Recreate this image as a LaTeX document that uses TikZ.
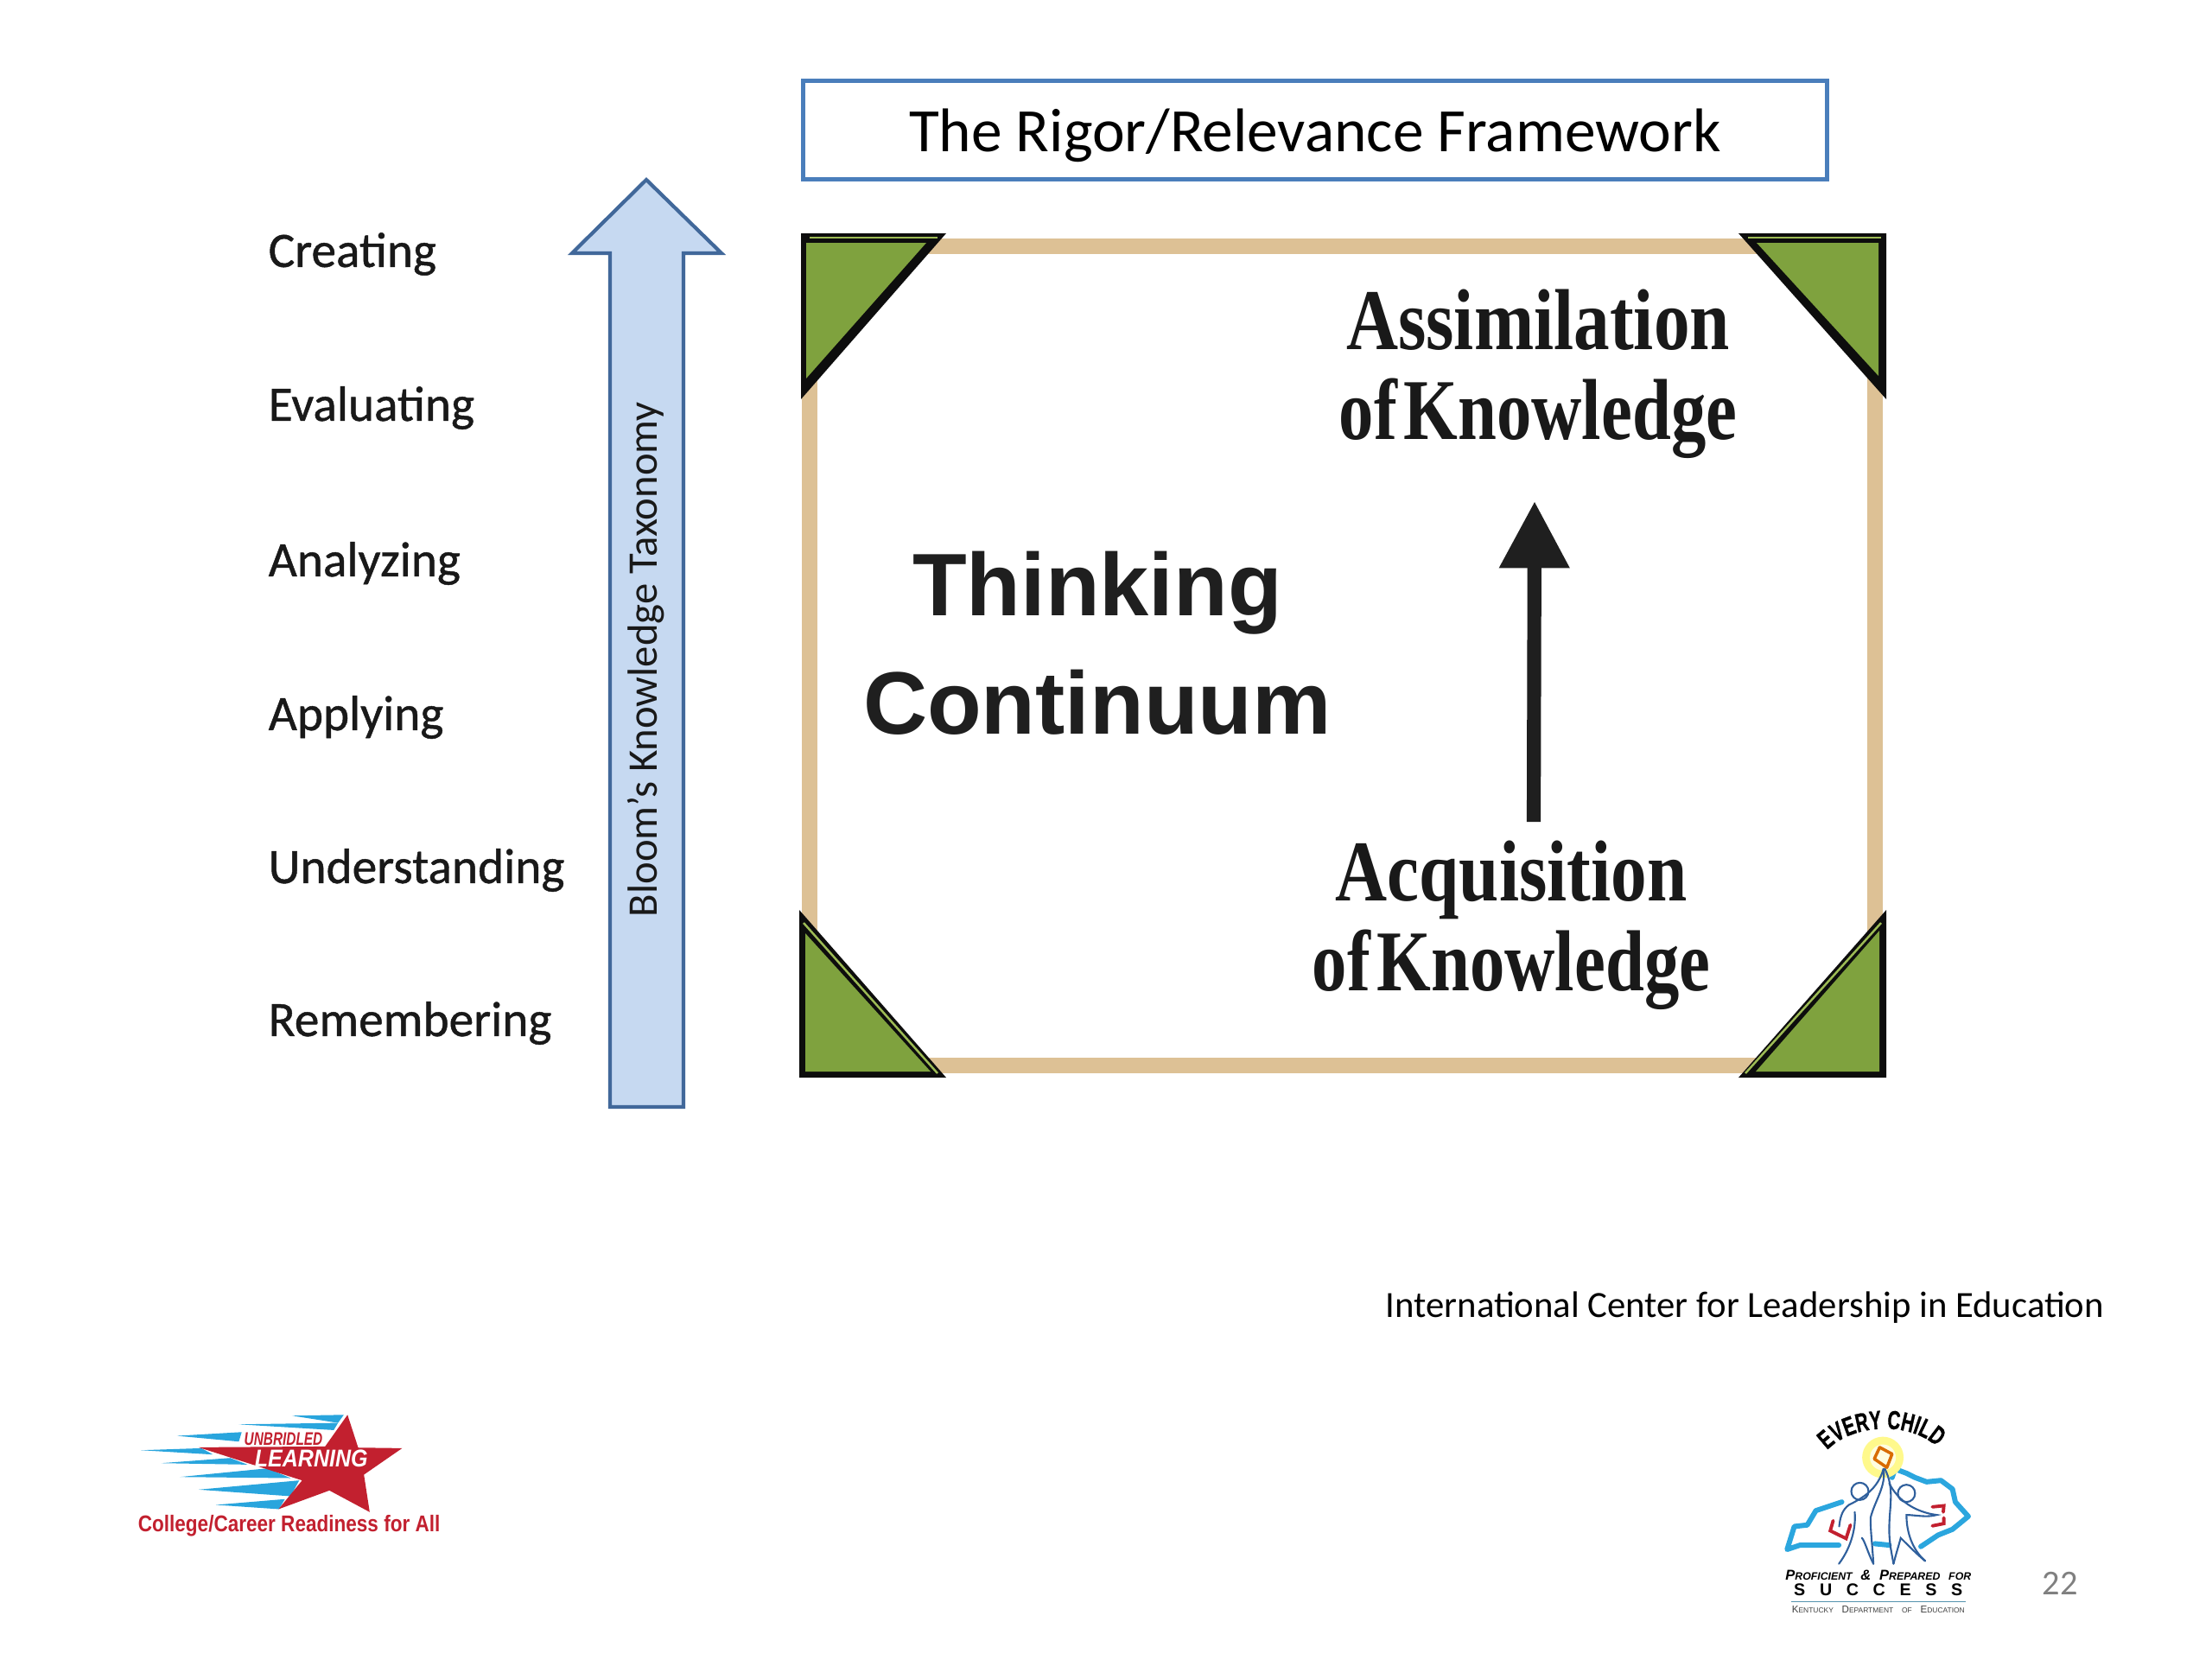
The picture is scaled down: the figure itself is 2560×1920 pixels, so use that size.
\documentclass[tikz,border=0pt]{standalone}
\usepackage{fontspec}
\usepackage{graphicx}
\setmainfont{Carlito}
\newfontfamily\levelfont[FakeBold=0.8]{Carlito}
\newfontfamily\serifcond[FakeStretch=0.83]{Liberation Serif}
\newfontfamily\headfont{Liberation Sans}
\newfontfamily\childfont[FakeStretch=0.68,FakeBold=1]{Liberation Sans}
\usepackage{xcolor}
\usepackage{tikz}
\usetikzlibrary{arrows.meta,positioning,decorations.text}
\definecolor{titleblue}{HTML}{4A7EBB}
\definecolor{arrowblue}{HTML}{C6D9F1}
\definecolor{arrowline}{HTML}{41689A}
\definecolor{frametan}{HTML}{DDC195}
\definecolor{cornergreen}{HTML}{7FA23E}
\definecolor{stripegreen}{HTML}{9DBB55}
\definecolor{logored}{HTML}{C2202F}
\definecolor{logoblue}{HTML}{29A5DD}
\definecolor{kyblue}{HTML}{2BA6DE}
\definecolor{kydark}{HTML}{2F5F9C}
\newcommand{\capword}[4]{{\fontsize{#1}{7}\selectfont #3\fontsize{#2}{7}\selectfont #4}}

\begin{document}
\begin{tikzpicture}[
    x=0.01cm, y=-0.01cm,
    level/.style={anchor=west, inner sep=0pt, font=\levelfont\fontsize{16.3}{19}\selectfont, text=black!90},
    cornerout/.style={fill=black!95},
    cornerin/.style={fill=cornergreen},
    cornerstripe/.style={draw=stripegreen, line width=0.7pt},
    framelabel/.style={align=center, inner sep=0pt, text=black!90,
                       font=\serifcond\bfseries\fontsize{28.5}{29.7}\selectfont},
    streak/.style={fill=logoblue, draw=none},
    kyline/.style={draw=kyblue, line width=1.7pt, line join=round, line cap=round},
    figline/.style={draw=kydark, line width=0.6pt, line cap=round},
    bookline/.style={draw=logored, line width=1.1pt, line cap=round}
]
\useasboundingbox (0,0) rectangle (2560,1920);

% title
\node[draw=titleblue, line width=1.4pt, minimum width=11.84cm, minimum height=1.14cm, inner sep=0pt,
      text height=16pt, text depth=1.6pt, font=\fontsize{20.3}{24}\selectfont, anchor=north west] (title) at (927,91) {The Rigor/Relevance Framework};

% taxonomy levels
\node[level] (creating) at (310,294) {Creating};
\node[level] (evaluating) at (310,472) {Evaluating};
\node[level] (analyzing) at (310,652) {Analyzing};
\node[level] (applying) at (310,830) {Applying};
\node[level] (understanding) at (310,1007) {Understanding};
\node[level] (remembering) at (310,1184) {Remembering};

% bloom arrow
\draw[draw=arrowline, fill=arrowblue, line width=1.2pt, line join=miter]
    (748,208) -- (835,293) -- (791,293) -- (791,1281) -- (706,1281) -- (706,293) -- (662,293) -- cycle;
\node[rotate=90, inner sep=0pt, font=\fontsize{13.85}{17}\selectfont, text=black!90] (bloom) at (748,763) {Bloom’s Knowledge Taxonomy};

% frame and corners
\draw[draw=frametan, line width=5.2pt] (937,285) rectangle (2170,1233);
\fill[cornerout] (927,270) -- (1095,270) -- (927,462) -- cycle;
\fill[cornerin] (933,281) -- (1072,281) -- (933,438) -- cycle;
\draw[cornerstripe] (937,275) -- (1085,275);
\fill[cornerout] (2183,270) -- (2012,270) -- (2183,462) -- cycle;
\fill[cornerin] (2174,281) -- (2033,281) -- (2174,435) -- cycle;
\draw[cornerstripe] (2177,275) -- (2023,275);
\fill[cornerout] (925,1053) -- (925,1247) -- (1095,1247) -- cycle;
\fill[cornerin] (932,1080) -- (932,1240) -- (1077,1240) -- cycle;
\draw[cornerstripe] (930,1068) -- (1085,1242);
\fill[cornerout] (2183,1053) -- (2183,1247) -- (2012,1247) -- cycle;
\fill[cornerin] (2175,1077) -- (2175,1240) -- (2032,1240) -- cycle;
\draw[cornerstripe] (2177,1068) -- (2020,1242);

% frame text
\node[align=center, inner sep=0pt, text=black!88, font=\headfont\bfseries\fontsize{29.2}{39}\selectfont] (thinking) at (1270,744) {Thinking\\Continuum};
\node[framelabel] (assim) at (1780,433) {Assimilation\\\scalebox{0.97}[1]{of\hspace{0.08em}Knowledge}};
\node[framelabel] (acqui) at (1749,1071) {Acquisition\\\scalebox{0.97}[1]{of\hspace{0.08em}Knowledge}};
\coordinate (arrowfrom) at (1775,951);
\coordinate (arrowto) at (1776,580);
\draw[line width=4.6pt, draw=black!88, -{Triangle[length=22pt,width=22pt]}] (arrowfrom) -- (arrowto);

% source and page number
\node[anchor=west, inner sep=0pt, font=\fontsize{12.15}{14}\selectfont] (source) at (1603,1513) {International Center for Leadership in Education};
\node[inner sep=0pt, text=black!50, font=\fontsize{11.5}{14}\selectfont] (pagenum) at (2384,1832) {22};

% left logo
\begin{scope}[shift={(120,1600)}, x=0.00333cm, y=-0.00333cm]
    \foreach \tipx/\tipy/\ax/\ay/\bx/\by in {
        655/115/835/112/815/140, 470/145/815/140/800/165, 255/185/480/172/470/205,
        130/235/340/228/380/250, 200/280/440/262/500/285, 265/328/570/298/650/332,
        330/372/680/340/650/395, 390/425/630/405/610/440}
        \fill[streak] (\tipx,\tipy) -- (\ax,\ay) -- (\bx,\by) -- cycle;
    \fill[logored] (848,112) -- (885,226) -- (1038,228) -- (905,320) -- (925,450) -- (785,375)
        -- (608,440) -- (690,340) -- (330,225) -- (770,222) -- cycle;
    \node[inner sep=0pt, text=logored, font=\headfont\bfseries\itshape\fontsize{6}{7}\selectfont] (unbridled) at (625,197) {\scalebox{0.73}[1]{UNBRIDLED}};
    \node[inner sep=0pt, text=white, font=\headfont\bfseries\itshape\fontsize{8}{10}\selectfont] (learning) at (722,265) {\scalebox{0.89}[1]{LEARNING}};
    \node[inner sep=0pt, text=logored, font=\headfont\bfseries\fontsize{7.5}{9}\selectfont] (readiness) at (645,497) {\scalebox{0.855}[1]{College/Career Readiness for All}};
\end{scope}

% right logo
\begin{scope}[shift={(2030,1610)}, x=0.00333cm, y=-0.00333cm]
    % state outline
    \draw[kyline] (480,300) -- (490,270) -- (530,285) -- (560,300) -- (600,315) -- (650,310) -- (690,340)
        -- (700,385) -- (745,435) -- (690,480) -- (640,500) -- (580,540);
    \draw[kyline] (470,535) -- (420,530);
    \draw[kyline] (295,535) -- (160,535) -- (115,550) -- (140,470) -- (185,465) -- (215,415)
        -- (260,400) -- (305,385);
    % star and glow
    \fill[yellow!45] (448,230) circle (72);
    \fill[yellow!12] (448,230) circle (45);
    \draw[draw=orange!85!black, line width=1pt, line join=round] (437,195) -- (480,218) -- (462,265) -- (418,235) -- cycle;
    % figures
    \draw[figline] (368,348) circle (30);
    \draw[figline] (530,355) circle (30);
    \draw[figline] (450,270) .. controls (430,340) and (380,370) .. (330,395) .. controls (310,410) and (300,430) .. (296,470);
    \draw[figline] (450,270) .. controls (460,330) and (420,380) .. (405,440) .. controls (405,490) and (412,540) .. (415,600);
    \draw[figline] (350,420) .. controls (355,470) and (340,540) .. (295,600);
    \draw[figline] (415,600) .. controls (395,560) and (385,520) .. (375,510);
    \draw[figline] (455,270) .. controls (490,340) and (470,400) .. (470,480) .. controls (470,530) and (480,570) .. (485,600);
    \draw[figline] (470,320) .. controls (500,380) and (560,420) .. (635,430) .. controls (600,440) and (560,430) .. (530,430) .. controls (530,490) and (550,550) .. (595,590);
    \draw[figline] (485,600) .. controls (495,560) and (505,530) .. (510,510) .. controls (540,540) and (570,570) .. (595,590);
    % books
    \draw[bookline] (275,450) -- (265,485) -- (320,512) -- (335,465);
    \draw[bookline] (620,402) -- (660,398) -- (658,420);
    \draw[bookline] (660,440) -- (660,460) -- (620,468);
    % lettering
    \path[postaction={decorate, decoration={text along path, text align=center,
        text={|\childfont\bfseries\fontsize{8.6}{10}\selectfont|EVERY CHILD}}}]
        (240,222) .. controls (320,110) and (560,95) .. (650,210);
    \node[inner sep=0pt, font=\headfont\bfseries\itshape] (proficient) at (432,640) {\capword{4.7}{3.5}{P}{ROFICIENT} \capword{4.7}{3.5}{\&}{} \capword{4.7}{3.5}{P}{REPARED} \capword{3.5}{3.5}{F}{OR}};
    \node[inner sep=0pt, font=\headfont\bfseries\fontsize{5.6}{7}\selectfont] (success) at (432,690) {S\hspace{1.6ex}U\hspace{1.6ex}C\hspace{1.6ex}C\hspace{1.6ex}E\hspace{1.6ex}S\hspace{1.6ex}S};
    \draw[draw=kyblue!50!gray, line width=0.4pt] (130,731) -- (735,731);
    \node[inner sep=0pt, text=black!75, font=\headfont] (kde) at (432,760) {\capword{3.3}{2.4}{K}{ENTUCKY} \capword{3.3}{2.4}{D}{EPARTMENT} \capword{2.4}{2.4}{O}{F} \capword{3.3}{2.4}{E}{DUCATION}};
\end{scope}

\end{tikzpicture}
\end{document}
